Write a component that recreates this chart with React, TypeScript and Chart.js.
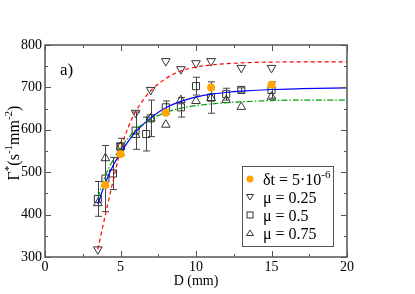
import React, { useEffect, useRef } from 'react';
import { Chart, registerables } from 'chart.js';
Chart.register(...registerables);

// ---- data ----
const dtD = [4, 5, 8, 11, 15];
const dtG = [470, 543, 640, 700, 706];

const mu025D = [3.5, 5, 6, 7, 8, 9, 10, 11, 13, 15];
const mu025G = [318, 563, 640, 694, 762, 743, 757, 762, 746, 746];

const mu05D = [3.5, 4, 4.5, 5, 6, 6.7, 7, 8, 9, 10, 11, 12, 13, 15];
const mu05G = [437, 485, 497, 560, 598, 590, 627, 653, 653, 703, 676, 684, 694, 694];
const mu05Err = [41, 78, 38, 20, 44, 40, 43, 15, 23, 21, 37, 14, 5, 19];

const mu075D = [3.5, 4, 5, 6, 7, 8, 9, 10, 11, 12, 13, 15];
const mu075G = [427, 533, 560, 588, 627, 612, 670, 668, 675, 670, 654, 678];

const fitRedD = [3.5, 4, 4.5, 5, 5.5, 6, 6.5, 7, 8, 9, 10, 11, 12, 14, 16, 20];
const fitRedG = [318, 400, 478, 552, 605, 643, 670, 692, 721, 739, 748, 753, 756, 759, 760, 760];

const fitBlueD = [3.5, 4, 4.5, 5, 5.5, 6, 7, 8, 9, 10, 11, 12, 13, 15, 17, 20];
const fitBlueG = [425, 475, 515, 545, 572, 595, 628, 652, 667, 677, 684, 688, 691, 695, 697, 699];

const fitGreenD = [3.5, 4, 4.5, 5, 5.5, 6, 7, 8, 9, 10, 11, 12, 13, 15, 17, 20];
const fitGreenG = [440, 492, 528, 556, 580, 600, 625, 641, 651, 657, 661, 664, 666, 669, 670, 670];

const xTicks = [0, 5, 10, 15, 20];
const yTicks = [300, 400, 500, 600, 700, 800];

const SERIF = "'Liberation Serif', 'Times New Roman', serif";
const MARK = '#333333';

const pts = (xs: number[], ys: number[]) => xs.map((x, i) => ({ x, y: ys[i] }));

function drawRich(ctx: CanvasRenderingContext2D, parts: { t: string; sup?: boolean }[], x: number, y: number, size: number, align: 'left' | 'center') {
  const supSize = Math.round(size * 0.68);
  let total = 0;
  const widths = parts.map((p) => {
    ctx.font = `${p.sup ? supSize : size}px ${SERIF}`;
    const w = ctx.measureText(p.t).width;
    total += w;
    return w;
  });
  let cx = align === 'center' ? x - total / 2 : x;
  ctx.textBaseline = 'alphabetic';
  ctx.textAlign = 'left';
  parts.forEach((p, i) => {
    ctx.font = `${p.sup ? supSize : size}px ${SERIF}`;
    ctx.fillText(p.t, cx, p.sup ? y - size * 0.42 : y);
    cx += widths[i];
  });
}

const decorPlugin = {
  id: 'decor',
  beforeDatasetsDraw(chart: any) {
    const ctx = chart.ctx as CanvasRenderingContext2D;
    const xs = chart.scales.x;
    const ys = chart.scales.y;
    ctx.save();
    ctx.strokeStyle = '#444';
    ctx.lineWidth = 1;
    mu05D.forEach((d, i) => {
      const px = Math.round(xs.getPixelForValue(d)) + 0.5;
      const y1 = ys.getPixelForValue(mu05G[i] + mu05Err[i]);
      const y2 = ys.getPixelForValue(mu05G[i] - mu05Err[i]);
      ctx.beginPath();
      ctx.moveTo(px, y1);
      ctx.lineTo(px, y2);
      ctx.moveTo(px - 3.5, y1);
      ctx.lineTo(px + 3.5, y1);
      ctx.moveTo(px - 3.5, y2);
      ctx.lineTo(px + 3.5, y2);
      ctx.stroke();
    });
    ctx.restore();
  },
  afterDraw(chart: any) {
    const ctx = chart.ctx as CanvasRenderingContext2D;
    const { left, right, top, bottom } = chart.chartArea;
    const xs = chart.scales.x;
    const ys = chart.scales.y;
    ctx.save();
    // frame
    ctx.strokeStyle = '#555';
    ctx.lineWidth = 1.5;
    ctx.strokeRect(left, top, right - left, bottom - top);
    // ticks (inward, all sides)
    ctx.lineWidth = 1;
    for (let v = 0; v <= 20; v += 2.5) {
      const px = Math.round(xs.getPixelForValue(v)) + 0.5;
      const len = v % 5 === 0 ? 6 : 3;
      ctx.beginPath();
      ctx.moveTo(px, bottom);
      ctx.lineTo(px, bottom - len);
      ctx.moveTo(px, top);
      ctx.lineTo(px, top + len);
      ctx.stroke();
    }
    for (let v = 300; v <= 800; v += 50) {
      const py = Math.round(ys.getPixelForValue(v)) + 0.5;
      const len = v % 100 === 0 ? 6 : 3;
      ctx.beginPath();
      ctx.moveTo(left, py);
      ctx.lineTo(left + len, py);
      ctx.moveTo(right, py);
      ctx.lineTo(right - len, py);
      ctx.stroke();
    }
    ctx.fillStyle = '#000';
    // x title
    ctx.font = `14px ${SERIF}`;
    ctx.textAlign = 'center';
    ctx.textBaseline = 'middle';
    ctx.fillText('D (mm)', (left + right) / 2, 281);
    // y title (rotated)
    ctx.save();
    ctx.translate(19, 143);
    ctx.rotate(-Math.PI / 2);
    drawRich(ctx, [
      { t: 'Γ' }, { t: '*', sup: true }, { t: '(s' }, { t: '-1', sup: true }, { t: 'mm' }, { t: '-2', sup: true }, { t: ')' },
    ], 0, 0, 16, 'center');
    ctx.restore();
    // panel label
    ctx.font = `17px ${SERIF}`;
    ctx.textAlign = 'left';
    ctx.textBaseline = 'alphabetic';
    ctx.fillText('a)', 60, 75);
    // legend
    const bx = 242, by = 166, bw = 91, bh = 80;
    ctx.strokeStyle = '#555';
    ctx.lineWidth = 1;
    ctx.strokeRect(bx + 0.5, by + 0.5, bw, bh);
    const rows = [179, 197, 215, 233];
    const mx = 250, tx = 263;
    // orange dot
    ctx.fillStyle = '#ffa500';
    ctx.beginPath();
    ctx.arc(mx, rows[0], 3.5, 0, Math.PI * 2);
    ctx.fill();
    ctx.strokeStyle = MARK;
    ctx.lineWidth = 1;
    // down triangle
    ctx.beginPath();
    ctx.moveTo(mx - 3.5, rows[1] - 2.5);
    ctx.lineTo(mx + 3.5, rows[1] - 2.5);
    ctx.lineTo(mx, rows[1] + 3);
    ctx.closePath();
    ctx.stroke();
    // square
    ctx.strokeRect(mx - 3, rows[2] - 3, 6, 6);
    // up triangle
    ctx.beginPath();
    ctx.moveTo(mx - 3.5, rows[3] + 2.5);
    ctx.lineTo(mx + 3.5, rows[3] + 2.5);
    ctx.lineTo(mx, rows[3] - 3);
    ctx.closePath();
    ctx.stroke();
    ctx.fillStyle = '#000';
    const base = 6;
    drawRich(ctx, [{ t: 'δt = 5·10' }, { t: '-6', sup: true }], tx, rows[0] + base, 16, 'left');
    drawRich(ctx, [{ t: 'μ = 0.25' }], tx, rows[1] + base, 16, 'left');
    drawRich(ctx, [{ t: 'μ = 0.5' }], tx, rows[2] + base, 16, 'left');
    drawRich(ctx, [{ t: 'μ = 0.75' }], tx, rows[3] + base, 16, 'left');
    ctx.restore();
  },
};

export default function App() {
  const ref = useRef<HTMLCanvasElement>(null);
  useEffect(() => {
    if (!ref.current) return;
    const lineDs = (xs: number[], ys: number[], color: string, dash: number[], w: number) => ({
      type: 'line' as const,
      data: pts(xs, ys),
      showLine: true,
      borderColor: color,
      borderWidth: w,
      borderDash: dash,
      pointRadius: 0,
      fill: false,
      cubicInterpolationMode: 'monotone' as const,
    });
    const chart = new Chart(ref.current, {
      type: 'scatter',
      data: {
        datasets: [
          {
            label: 'δt = 5·10⁻⁶',
            data: pts(dtD, dtG),
            pointStyle: 'circle',
            pointRadius: 4,
            backgroundColor: '#ffa500',
            borderColor: '#ffa500',
            borderWidth: 0,
          },
          lineDs(fitRedD, fitRedG, '#ff0000', [4, 3], 1.2),
          lineDs(fitGreenD, fitGreenG, '#00a000', [6, 2, 1.5, 2], 1.2),
          lineDs(fitBlueD, fitBlueG, '#0000ff', [], 1.2),
          {
            label: 'μ = 0.25',
            data: pts(mu025D, mu025G),
            pointStyle: 'triangle',
            rotation: 180,
            pointRadius: 5,
            backgroundColor: 'rgba(0,0,0,0)',
            borderColor: MARK,
            borderWidth: 1,
          },
          {
            label: 'μ = 0.5',
            data: pts(mu05D, mu05G),
            pointStyle: 'rect',
            pointRadius: 5,
            backgroundColor: 'rgba(0,0,0,0)',
            borderColor: MARK,
            borderWidth: 1,
          },
          {
            label: 'μ = 0.75',
            data: pts(mu075D, mu075G),
            pointStyle: 'triangle',
            pointRadius: 5,
            backgroundColor: 'rgba(0,0,0,0)',
            borderColor: MARK,
            borderWidth: 1,
          },
        ] as any,
      },
      options: {
        responsive: false,
        animation: false,
        devicePixelRatio: 1,
        layout: { padding: { top: 45, right: 68, left: 0, bottom: 0 } },
        plugins: { legend: { display: false }, tooltip: { enabled: false } },
        scales: {
          x: {
            type: 'linear',
            min: 0,
            max: 20,
            afterFit: (s: any) => { s.height = 37; },
            afterBuildTicks: (s: any) => { s.ticks = xTicks.map((v) => ({ value: v })); },
            grid: { display: false, drawTicks: false },
            border: { display: false },
            ticks: { color: '#000', font: { family: SERIF, size: 14 }, padding: 2, maxRotation: 0 },
          },
          y: {
            type: 'linear',
            min: 300,
            max: 800,
            afterFit: (s: any) => { s.width = 45; },
            afterBuildTicks: (s: any) => { s.ticks = yTicks.map((v) => ({ value: v })); },
            grid: { display: false, drawTicks: false },
            border: { display: false },
            ticks: { color: '#000', font: { family: SERIF, size: 14 }, padding: 3 },
          },
        },
      },
      plugins: [decorPlugin],
    });
    return () => chart.destroy();
  }, []);
  return (
    <div style={{ position: 'absolute', left: 0, top: 0, width: 415, height: 294, background: '#fff' }}>
      <canvas ref={ref} width={415} height={294} />
    </div>
  );
}
